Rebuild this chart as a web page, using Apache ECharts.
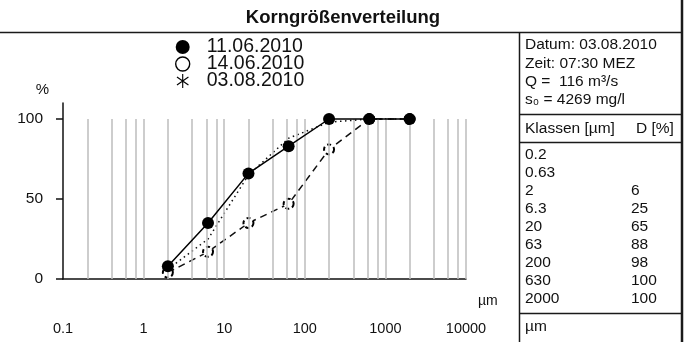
<!DOCTYPE html>
<html>
<head>
<meta charset="utf-8">
<script src="https://cdn.jsdelivr.net/npm/echarts@6/dist/echarts.min.js"></script>
<style>
html,body{margin:0;padding:0;background:#fff;}
#c{width:686px;height:342px;}
</style>
</head>
<body>
<div id="c"></div>
<script>
// ---- data ----
const sizes = [2, 6.3, 20, 63, 200, 630, 2000];
const s1Values = [8, 35, 66, 83, 100, 100, 100];      // 11.06.2010
const s2Values = [4, 17, 35, 47, 81, 100, 100];       // 14.06.2010
const classLabels = ['0.2', '0.63', '2', '6.3', '20', '63', '200', '630', '2000'];
const dValues = [null, null, 6, 25, 65, 88, 98, 100, 100]; // 03.08.2010
const gridValues = [0.2, 0.4, 0.6, 0.8, 1, 2, 4, 6, 8, 10, 20, 40, 60, 80, 100,
  200, 400, 600, 800, 1000, 2000, 4000, 6000, 8000, 10000];
const xTickLabels = [0.1, 1, 10, 100, 1000, 10000];
const yTickLabels = [0, 50, 100];
const seriesNames = ['11.06.2010', '14.06.2010', '03.08.2010'];
const infoLines = ['Datum: 03.08.2010', 'Zeit: 07:30 MEZ', 'Q =  116 m\u00B3/s', 's\u2080 = 4269 mg/l'];

// ---- build ----
const s1 = sizes.map((x, i) => [x, s1Values[i]]);
const s2 = sizes.map((x, i) => [x, s2Values[i]]);
const s3 = classLabels.map((c, i) => [parseFloat(c), dValues[i]]).filter(d => d[1] !== null);

function asteriskPath() {
  const R = 10, w = 0.8, parts = [];
  [90, 35, 145].forEach(a => {
    const t = a * Math.PI / 180, dx = Math.cos(t), dy = Math.sin(t), nx = -dy, ny = dx;
    const p = [[R*dx + w*nx, R*dy + w*ny], [R*dx - w*nx, R*dy - w*ny],
               [-R*dx - w*nx, -R*dy - w*ny], [-R*dx + w*nx, -R*dy + w*ny]];
    parts.push('M' + p.map(q => q[0].toFixed(2) + ',' + q[1].toFixed(2)).join('L') + 'Z');
  });
  return 'path://' + parts.join('');
}

const FONT = '"Liberation Sans", Arial, Helvetica, sans-serif';
const chart = echarts.init(document.getElementById('c'), null, {renderer: 'canvas'});

const graphics = [];
function line(x1, y1, x2, y2, w) {
  graphics.push({type: 'line', silent: true, z: 100,
    shape: {x1, y1, x2, y2}, style: {stroke: '#1a1a1a', lineWidth: w}});
}
function text(t, x, y) {
  graphics.push({type: 'text', silent: true, z: 100,
    style: {text: t, x, y, fill: '#111', font: '15.5px ' + FONT, verticalAlign: 'middle', align: 'left'}});
}
line(0, 32.5, 682, 32.5, 1.5);
line(682, 0, 682, 342, 2.5);
line(519.5, 32, 519.5, 342, 1.5);
line(519, 114.5, 682, 114.5, 1.5);
line(519, 142.5, 682, 142.5, 1.5);
line(519, 313.5, 682, 313.5, 1.5);
infoLines.forEach((t, i) => text(t, 525, 45 + i * 18.3));
text('Klassen [\u00B5m]', 525, 128.5);
text('D [%]', 636, 128.5);
classLabels.forEach((c, i) => {
  text(c, 525, 155 + i * 18);
  if (dValues[i] !== null) text(String(dValues[i]), 631, 155 + i * 18);
});
text('\u00B5m', 525, 327);

const option = {
  animation: false,
  backgroundColor: '#fff',
  textStyle: {fontFamily: FONT},
  title: {
    text: 'Korngr\u00F6\u00DFenverteilung', left: 'center', top: 3,
    textStyle: {fontSize: 18.5, fontWeight: 'bold', color: '#111', fontFamily: FONT}
  },
  legend: {
    orient: 'vertical', left: 170, top: 32, itemGap: -3,
    itemWidth: 14, itemHeight: 14, selectedMode: false,
    textStyle: {fontSize: 19.5, lineHeight: 17, color: '#111', padding: [0, 0, 0, 12], fontFamily: FONT},
    data: [
      {name: seriesNames[0], icon: 'circle', itemStyle: {color: '#000', borderWidth: 0}},
      {name: seriesNames[1], icon: 'circle', itemStyle: {color: '#fff', borderColor: '#000', borderWidth: 1.4}},
      {name: seriesNames[2], icon: asteriskPath(), itemStyle: {color: '#000', borderWidth: 0}}
    ]
  },
  grid: {left: 63, right: 220, top: 103, bottom: 63, containLabel: false},
  xAxis: {
    type: 'log', logBase: 10, min: 0.1, max: 10000,
    name: '\u00B5m', nameLocation: 'end', nameGap: 12,
    nameTextStyle: {fontSize: 14, color: '#111', verticalAlign: 'top', padding: [15, 0, 0, 0]},
    axisLine: {show: true, lineStyle: {color: '#111', width: 1.5}},
    axisTick: {show: false},
    splitLine: {show: false},
    minorTick: {show: false},
    axisLabel: {
      margin: 42, fontSize: 14.5, color: '#111',
      customValues: xTickLabels,
      formatter: v => String(Number(v.toPrecision(6)))
    }
  },
  yAxis: {
    type: 'value', min: 0, max: 110,
    name: '%', nameLocation: 'end', nameGap: 6,
    nameTextStyle: {fontSize: 15, color: '#111', align: 'right', padding: [0, 14, 0, 0]},
    axisLine: {show: true, lineStyle: {color: '#111', width: 1.5}},
    axisTick: {show: true, inside: false, length: 7, customValues: yTickLabels, lineStyle: {color: '#111', width: 1.5}},
    splitLine: {show: false},
    axisLabel: {margin: 20, fontSize: 15.5, color: '#111', customValues: yTickLabels}
  },
  series: [
    {
      name: 'grid', type: 'line', data: [], silent: true, z: 1,
      markLine: {
        silent: true, symbol: ['none', 'none'], animation: false,
        label: {show: false},
        lineStyle: {color: '#bdbdbd', width: 1.5, type: 'solid'},
        emphasis: {disabled: true},
        data: gridValues.map(v => [{coord: [v, 0]}, {coord: [v, 100]}])
      }
    },
    {
      name: seriesNames[2], type: 'line', data: s3, z: 3,
      showSymbol: false, symbol: 'none',
      lineStyle: {color: '#111', width: 1.5, type: [1.5, 3.5]},
      itemStyle: {color: '#000'}
    },
    {
      name: seriesNames[1], type: 'line', data: s2, z: 4,
      symbol: 'emptyCircle', symbolSize: 10, showSymbol: true,
      lineStyle: {color: '#111', width: 1.5, type: [7, 5]},
      itemStyle: {color: '#000', borderColor: '#000', borderWidth: 1.4, borderType: [4, 3]}
    },
    {
      name: seriesNames[0], type: 'line', data: s1, z: 5,
      symbol: 'circle', symbolSize: 12,
      lineStyle: {color: '#000', width: 1.5, type: 'solid'},
      itemStyle: {color: '#000', borderWidth: 0}
    }
  ],
  graphic: graphics
};
chart.setOption(option);
</script>
</body>
</html>
